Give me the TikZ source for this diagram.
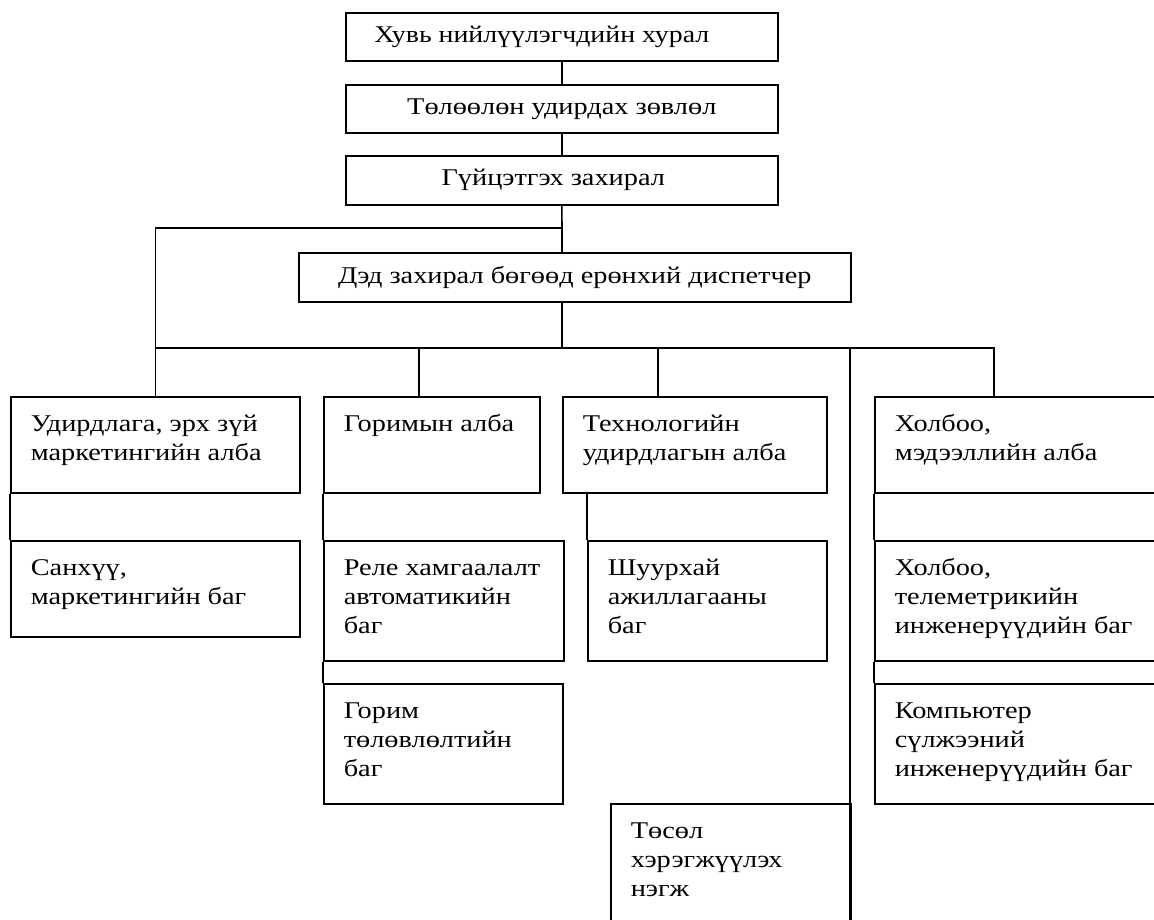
\documentclass[tikz,border=0pt]{standalone}
\usepackage{fontspec}
\setmainfont{Liberation Serif}
\newfontfamily\widefont[FakeStretch=1.18]{Liberation Serif}
\newfontfamily\midfont[FakeStretch=1.16]{Liberation Serif}
\newcommand{\bxtxt}[3]{\parbox[t][#1pt][t]{#2pt}{\leftskip=20pt\parindent=0pt\rule{0pt}{35pt}#3}}
\begin{document}
\begin{tikzpicture}[x=1pt,y=-1pt,
  ln/.style={line width=1.6pt},
  topbox/.style={ln,draw,inner sep=0pt,anchor=north west,minimum height=48pt,
    font=\widefont\fontsize{24}{29}\selectfont},
  lowbox/.style={ln,draw,inner sep=0pt,anchor=north west,
    font=\widefont\fontsize{24}{29}\selectfont}]
\useasboundingbox (0,0) rectangle (1154,920);
\clip (0,0) rectangle (1154,920);
% top chain
\node[topbox,minimum width=432pt,font=\midfont\fontsize{24}{29}\selectfont] (top1) at (345,12) {\hspace*{-40pt}Хувь нийлүүлэгчдийн хурал};
\node[topbox,minimum width=432pt] (top2) at (345,84) {Төлөөлөн удирдах зөвлөл};
\node[topbox,minimum width=432pt,minimum height=49pt] (top3) at (345,155) {\hspace*{-17pt}Гүйцэтгэх захирал};
\node[topbox,minimum width=552pt,minimum height=49pt] (dep) at (298,252) {Дэд захирал бөгөөд ерөнхий диспетчер};
% lower boxes
\node[lowbox] (adm) at (10,396) {\bxtxt{96}{289}{Удирдлага, эрх зүй\\маркетингийн алба}};
\node[lowbox] (fin) at (10,540) {\bxtxt{96}{289}{Санхүү,\\маркетингийн баг}};
\node[lowbox] (reg) at (323,396) {\bxtxt{96}{216}{Горимын алба}};
\node[lowbox] (rel) at (323,540) {\bxtxt{120}{240}{Реле хамгаалалт\\автоматикийн\\баг}};
\node[lowbox] (plan) at (323,683) {\bxtxt{120}{239}{Горим\\төлөвлөлтийн\\баг}};
\node[lowbox] (tech) at (562,396) {\bxtxt{96}{264}{Технологийн\\удирдлагын алба}};
\node[lowbox] (ops) at (587,540) {\bxtxt{120}{239}{Шуурхай\\ажиллагааны\\баг}};
\node[lowbox] (proj) at (610,803) {\bxtxt{140}{240}{Төсөл\\хэрэгжүүлэх\\нэгж}};
\node[lowbox] (com) at (874,396) {\bxtxt{96}{300}{Холбоо,\\мэдээллийн алба}};
\node[lowbox] (tel) at (874,540) {\bxtxt{120}{300}{Холбоо,\\телеметрикийн\\инженерүүдийн баг}};
\node[lowbox] (net) at (874,683) {\bxtxt{120}{300}{Компьютер\\сүлжээний\\инженерүүдийн баг}};
% coordinates
\coordinate (j1) at (562,228);
\coordinate (bus) at (562,348);
\coordinate (busE) at (994,348);
\coordinate (dreg) at (419,348);
\coordinate (dtech) at (658,348);
\coordinate (lt) at (850,348);
\coordinate (lb) at (850,930);
% connectors
\draw[ln] (top1.south) -- (top2.north);
\draw[ln] (top2.south) -- (top3.north);
\draw[ln] (top3.south) -- (j1) -- (j1 |- dep.north);
\draw[ln] (j1) -| (adm.north);
\draw[ln] (j1 |- dep.south) -- (bus);
\draw[ln] (adm.north |- bus) -- (busE) -- (busE |- com.north);
\draw[ln] (dreg) -- (dreg |- reg.north);
\draw[ln] (dtech) -- (dtech |- tech.north);
\draw[ln] (lt) -- (lb);
\draw[ln] (adm.south west) -- (fin.north west);
\draw[ln] (reg.south west) -- (rel.north west);
\draw[ln] (rel.south west) -- (plan.north west);
\draw[ln] (tech.south west -| ops.north west) -- (ops.north west);
\draw[ln] (com.south west) -- (tel.north west);
\draw[ln] (tel.south west) -- (net.north west);
\end{tikzpicture}
\end{document}
